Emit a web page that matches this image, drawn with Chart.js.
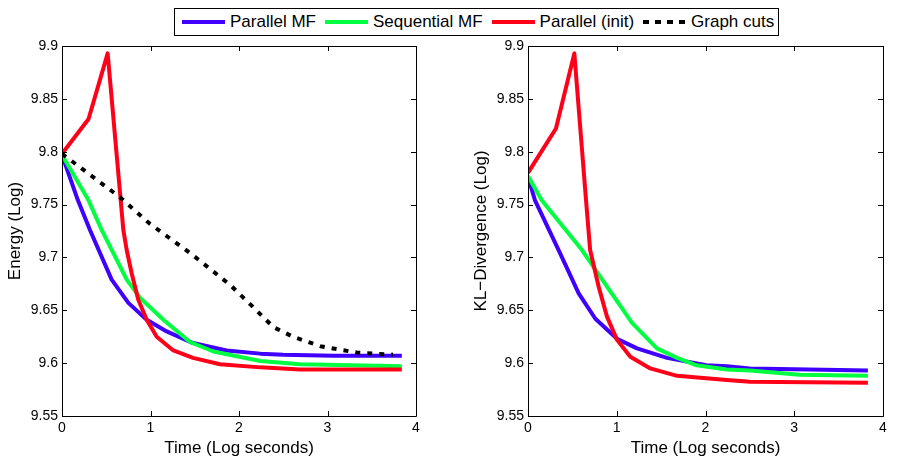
<!DOCTYPE html>
<html>
<head>
<meta charset="utf-8">
<script src="https://cdn.jsdelivr.net/npm/chart.js@4"></script>
<style>
  body { margin: 0; background: #fff; }
  #wrap { position: relative; width: 900px; height: 471px; overflow: hidden; }
  canvas { position: absolute; top: 0; }
  #c-energy { left: 0; }
  #c-kl { left: 450px; }
  .legend {
    position: absolute; left: 174px; top: 8px; height: 28px;
    box-sizing: border-box; display: flex; align-items: center;
    border: 1px solid #000; background: #fff; padding: 0 4px 0 7px;
    font: 17px "Liberation Sans", Arial, sans-serif; color: #000; white-space: nowrap;
  }
  .legend .item { display: flex; align-items: center; margin-right: 9px; }
  .legend .item:last-child { margin-right: 0; }
  .legend .sw { width: 43px; height: 4px; margin-right: 5px; }
</style>
</head>
<body>
<div id="wrap">
  <canvas id="c-energy" width="440" height="471" style="width:440px;height:471px"></canvas>
  <canvas id="c-kl" width="450" height="471" style="width:450px;height:471px"></canvas>
  <div class="legend" id="legend"></div>
</div>
<script>
// ── Data ────────────────────────────────────────────────────────────────────

const xTicks = [0, 1, 2, 3, 4];
const yTicks = [9.55, 9.6, 9.65, 9.7, 9.75, 9.8, 9.85, 9.9];

// Energy panel
const energyParMF_t  = [0, 0.18, 0.316, 0.561, 0.75, 0.957, 1.183, 1.48, 1.86, 2.24, 2.5, 3.07, 3.84];
const energyParMF    = [9.797, 9.754, 9.726, 9.679, 9.657, 9.641, 9.630, 9.619, 9.612, 9.609, 9.608, 9.607, 9.607];
const energySeqMF_t  = [0, 0.30, 0.448, 0.731, 0.88, 1.145, 1.446, 1.71, 2.24, 2.69, 3.84];
const energySeqMF    = [9.797, 9.754, 9.726, 9.679, 9.662, 9.641, 9.620, 9.611, 9.602, 9.599, 9.597];
const energyInit_t   = [0, 0.30, 0.516, 0.693, 0.731, 0.787, 0.862, 0.957, 1.07, 1.258, 1.48, 1.785, 2.24, 2.69, 3.84];
const energyInit     = [9.798, 9.831, 9.893, 9.726, 9.707, 9.685, 9.660, 9.641, 9.625, 9.612, 9.605, 9.599, 9.596, 9.594, 9.594];
const energyGC_t     = [0, 0.24, 0.655, 0.99, 1.45, 1.90, 2.16, 2.39, 2.61, 2.92, 3.33, 3.74];
const energyGC       = [9.798, 9.783, 9.757, 9.732, 9.704, 9.674, 9.653, 9.634, 9.625, 9.616, 9.610, 9.608];

// KL-divergence panel
const klParMF_t = [0, 0.079, 0.345, 0.571, 0.759, 1.003, 1.228, 1.566, 2.01, 2.24, 2.50, 3.83];
const klParMF   = [9.776, 9.754, 9.707, 9.666, 9.642, 9.623, 9.614, 9.605, 9.598, 9.597, 9.595, 9.593];
const klSeqMF_t = [0, 0.155, 0.608, 1.172, 1.453, 1.68, 1.90, 2.24, 2.50, 3.06, 3.83];
const klSeqMF   = [9.777, 9.754, 9.707, 9.638, 9.614, 9.605, 9.598, 9.594, 9.593, 9.589, 9.588];
const klInit_t  = [0, 0.315, 0.522, 0.654, 0.70, 0.797, 0.89, 1.003, 1.153, 1.378, 1.68, 2.24, 2.50, 3.83];
const klInit    = [9.780, 9.822, 9.893, 9.754, 9.707, 9.672, 9.644, 9.622, 9.606, 9.595, 9.588, 9.584, 9.5825, 9.5815];

const seriesNames = ["Parallel MF", "Sequential MF", "Parallel (init)", "Graph cuts"];
const seriesColors = ["#4000ff", "#00ff40", "#ff0019", "#000000"];

const FONT = "'Liberation Sans', Arial, sans-serif";

// ── Helpers ─────────────────────────────────────────────────────────────────

function pts(xs, ys) {
  return xs.map((x, i) => ({ x, y: ys[i] }));
}

function line(idx, xs, ys) {
  return {
    label: seriesNames[idx],
    data: pts(xs, ys),
    borderColor: seriesColors[idx],
    borderWidth: 4,
    borderDash: idx === 3 ? [5, 7] : [],
    borderCapStyle: "butt",
    borderJoinStyle: "round",
    pointRadius: 0,
    showLine: true,
    tension: 0,
    order: 4 - idx,
  };
}

// MATLAB-style box with inward ticks on all four sides
const matlabFrame = {
  id: "matlabFrame",
  afterDatasetsDraw(chart) {
    const { ctx, chartArea: a, scales: { x, y } } = chart;
    ctx.save();
    ctx.strokeStyle = "#000";
    ctx.lineWidth = 1;
    ctx.beginPath();
    ctx.rect(Math.round(a.left) + 0.5, Math.round(a.top) + 0.5,
             Math.round(a.right - a.left), Math.round(a.bottom - a.top));
    x.ticks.forEach(t => {
      const px = Math.round(x.getPixelForValue(t.value)) + 0.5;
      ctx.moveTo(px, a.bottom); ctx.lineTo(px, a.bottom - 5);
      ctx.moveTo(px, a.top);    ctx.lineTo(px, a.top + 5);
    });
    y.ticks.forEach(t => {
      const py = Math.round(y.getPixelForValue(t.value)) + 0.5;
      ctx.moveTo(a.left, py);  ctx.lineTo(a.left + 5, py);
      ctx.moveTo(a.right, py); ctx.lineTo(a.right - 5, py);
    });
    ctx.stroke();
    ctx.restore();
  }
};

function makeChart(id, datasets, yTitle, opts) {
  return new Chart(document.getElementById(id), {
    type: "scatter",
    data: { datasets },
    plugins: [matlabFrame],
    options: {
      responsive: false,
      animation: false,
      layout: { padding: { top: 46, right: opts.padRight, bottom: 0, left: 0 } },
      plugins: { legend: { display: false }, tooltip: { enabled: false } },
      scales: {
        x: {
          type: "linear", min: 0, max: 4,
          afterBuildTicks: s => { s.ticks = xTicks.map(v => ({ value: v })); },
          afterFit: s => { s.height = 55; },
          grid: { display: false, drawTicks: false },
          border: { display: false },
          ticks: { color: "#000", padding: 4, font: { family: FONT, size: 14 },
                   callback: v => String(v) },
          title: { display: true, text: "Time (Log seconds)", color: "#000",
                   font: { family: FONT, size: 17 }, padding: { top: 0, bottom: 12 } },
        },
        y: {
          type: "linear", min: 9.55, max: 9.9,
          afterBuildTicks: s => { s.ticks = yTicks.map(v => ({ value: v })); },
          afterFit: s => { s.width = opts.yWidth; },
          grid: { display: false, drawTicks: false },
          border: { display: false },
          ticks: { color: "#000", padding: 4, font: { family: FONT, size: 14 },
                   callback: v => String(parseFloat(Number(v).toFixed(2))) },
          title: { display: true, text: yTitle, color: "#000",
                   font: { family: FONT, size: 17 }, padding: { top: opts.yTitlePad, bottom: 0 } },
        }
      }
    }
  });
}

// ── Legend ──────────────────────────────────────────────────────────────────

function buildLegend() {
  const el = document.getElementById("legend");
  el.innerHTML = seriesNames.map((n, i) => {
    const bg = i === 3
      ? "repeating-linear-gradient(to right, #000 0 6px, transparent 6px 12px)"
      : seriesColors[i];
    return `<span class="item"><span class="sw" style="background:${bg}"></span>${n}</span>`;
  }).join("");
}

// ── Charts ──────────────────────────────────────────────────────────────────

makeChart("c-energy", [
  line(0, energyParMF_t, energyParMF),
  line(1, energySeqMF_t, energySeqMF),
  line(2, energyInit_t, energyInit),
  line(3, energyGC_t, energyGC),
], "Energy (Log)", { padRight: 24, yWidth: 62, yTitlePad: 5 });

makeChart("c-kl", [
  line(0, klParMF_t, klParMF),
  line(1, klSeqMF_t, klSeqMF),
  line(2, klInit_t, klInit),
], "KL\u2212Divergence (Log)", { padRight: 17, yWidth: 78, yTitlePad: 21 });

buildLegend();
</script>
</body>
</html>
